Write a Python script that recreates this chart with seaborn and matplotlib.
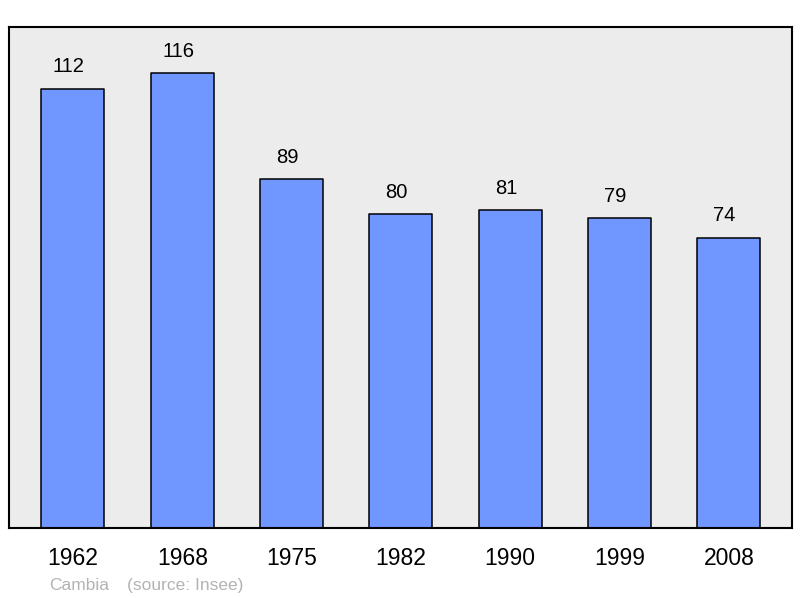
import matplotlib
matplotlib.use("Agg")
import matplotlib.pyplot as plt
import seaborn as sns
import pandas as pd

# Population data
years = ["1962", "1968", "1975", "1982", "1990", "1999", "2008"]
population = [112, 116, 89, 80, 81, 79, 74]

df = pd.DataFrame({"year": years, "pop": population})

sns.set_style("white")
plt.rcParams["font.family"] = ["Liberation Sans", "DejaVu Sans"]
plt.rcParams["text.color"] = "black"
plt.rcParams["xtick.color"] = "black"

fig = plt.figure(figsize=(8, 5.98), dpi=100)
ax = fig.add_axes([0.01125, 0.117, 0.97875, 0.838])
ax.set_facecolor("#ececec")

sns.barplot(data=df, x="year", y="pop", color="#7097ff", saturation=1,
            width=0.576, edgecolor="black", linewidth=1.1, ax=ax)
for p in ax.patches:
    p.set_joinstyle("round")

# value labels above bars (slightly left of centre, like the original)
for i, v in enumerate(population):
    ax.annotate(str(v), (i, v), xytext=(-3, 9), textcoords="offset points",
                ha="center", va="bottom", fontsize=14.5, color="black")

ax.set_xlim(-0.585, 6.578)
ax.set_ylim(0, 127.8)
ax.set_xlabel("")
ax.set_ylabel("")
ax.set_yticks([])
ax.tick_params(axis="x", length=0, pad=14, labelsize=16.5, labelcolor="black")
for s in ax.spines.values():
    s.set_linewidth(1.5)
    s.set_color("black")
    s.set_visible(True)

# source footer
fig.text(49 / 800, 1 - 590 / 598, "Cambia", color="#b3b3b3", fontsize=12.5, va="baseline")
fig.text(127 / 800, 1 - 590 / 598, "(source: Insee)", color="#b3b3b3", fontsize=12.5, va="baseline")

fig.savefig("out.png", dpi=100)
